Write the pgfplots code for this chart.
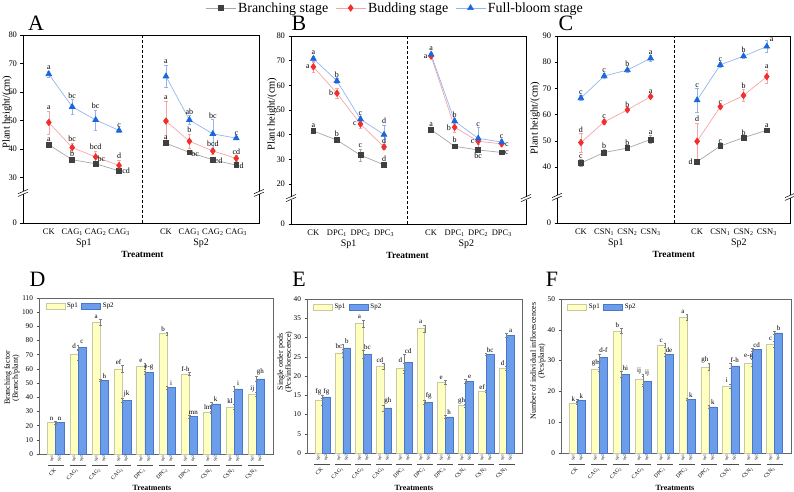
\documentclass[border=0pt]{standalone}
\usepackage{fontspec}
\setmainfont{Liberation Serif}
\usepackage{pgfplots}
\pgfplotsset{compat=1.18}
\usepackage{pgfplotstable}

\newcommand{\fs}[1]{\fontsize{#1}{#1}\selectfont}

\definecolor{blkM}{HTML}{404040}
\definecolor{blkL}{HTML}{A6A6A6}
\definecolor{redM}{HTML}{F42C2C}
\definecolor{redL}{HTML}{F5A5A5}
\definecolor{bluM}{HTML}{1C66DB}
\definecolor{bluL}{HTML}{93B5EE}
\definecolor{spA}{HTML}{FFFFC0}
\definecolor{spAe}{HTML}{C9C9A6}
\definecolor{spB}{HTML}{6C9DEA}
\definecolor{spBe}{HTML}{4A78C8}

\pgfplotsset{
  plantax/.style={
    scale only axis, anchor=south west, clip=false,
    axis line style={line width=0.6bp},
    tick align=outside, ytick pos=left, xtick pos=bottom,
    major tick length=2.5bp,
    every tick/.style={black, line width=0.5bp},
    xtick style={draw=none},
    ticklabel style={font=\fs{8.5}},
    /pgf/number format/assume math mode=true,
    xtick={0,1,2,3,5,6,7,8},
    ymin=0,
  },
  sBr/.style={blkL, line width=0.7bp, mark=square*, mark size=2.4bp,
    mark options={draw=blkM, fill=blkM, solid},
    error bars/y dir=both, error bars/y explicit,
    error bars/error bar style={blkL, line width=0.5bp},
    error bars/error mark options={blkL, rotate=90, mark size=1.6bp, line width=0.5bp}},
  sBu/.style={redL, line width=0.7bp, mark=diamond*, mark size=3.2bp,
    mark options={draw=redM, fill=redM, solid},
    error bars/y dir=both, error bars/y explicit,
    error bars/error bar style={redL, line width=0.5bp},
    error bars/error mark options={redL, rotate=90, mark size=1.6bp, line width=0.5bp}},
  sFb/.style={bluL, line width=0.7bp, mark=triangle*, mark size=3.3bp,
    mark options={draw=bluM, fill=bluM, solid},
    error bars/y dir=both, error bars/y explicit,
    error bars/error bar style={bluL, line width=0.5bp},
    error bars/error mark options={bluL, rotate=90, mark size=1.6bp, line width=0.5bp}},
  barax/.style={
    scale only axis, anchor=south west, clip=false,
    ymin=0, xmin=-0.75, xmax=9.75,
    axis line style={black!60, line width=0.6bp},
    tick align=outside, ytick pos=left,
    major tick length=2.5bp,
    every tick/.style={black!70, line width=0.5bp},
    xtick={0,...,9},
    xticklabels={CK,CAG\textsubscript{1},CAG\textsubscript{2},CAG\textsubscript{3},DPC\textsubscript{1},DPC\textsubscript{2},DPC\textsubscript{3},CSN\textsubscript{1},CSN\textsubscript{2},CSN\textsubscript{3}},
    xtick style={draw=none},
    yticklabel style={font=\fs{7.3}},
    xticklabel style={font=\fs{5.5}, rotate=45, anchor=east, inner sep=0.5bp},
    xticklabel shift=12.5bp,
    /pgf/number format/assume math mode=true,
    legend style={at={(0.025,0.985)}, anchor=north west, draw=none, fill=none,
      font=\fs{7}, inner sep=0.5bp, legend columns=2,
      /tikz/every even column/.append style={column sep=1.5bp}},
  },
  bS1/.style={ybar, bar width=0.37, bar shift=-0.185, fill=spA, draw=spAe, line width=0.5bp,
    error bars/y dir=both, error bars/y explicit,
    error bars/error bar style={gray, line width=0.4bp},
    error bars/error mark options={gray, rotate=90, mark size=1.3bp, line width=0.4bp},
    legend image code/.code={\draw[##1] (0bp,-3.3bp) rectangle (19bp,3.3bp);}},
  bS2/.style={ybar, bar width=0.37, bar shift=0.185, fill=spB, draw=spBe, line width=0.5bp,
    error bars/y dir=both, error bars/y explicit,
    error bars/error bar style={gray, line width=0.4bp},
    error bars/error mark options={gray, rotate=90, mark size=1.3bp, line width=0.4bp},
    legend image code/.code={\draw[##1] (0bp,-3.3bp) rectangle (19bp,3.3bp);}},
}

% letter labels on the line charts
\newcommand{\lb}[4][south]{\node[anchor=#1, inner sep=0.7bp, font=\fs{8}] at (axis cs:#2,#3) {#4};}
% letter labels on the bars (left bar / right bar of a pair)
\newcommand{\ba}[3]{\node[anchor=south, inner sep=0.6bp, font=\fs{7}, xshift=-4bp] at (axis cs:#1,#2) {#3};}
\newcommand{\bb}[3]{\node[anchor=south, inner sep=0.6bp, font=\fs{7}, xshift=4bp] at (axis cs:#1,#2) {#3};}
% broken y axis marks on both sides
\newcommand{\axbreak}[1]{%
  \fill[white] ([xshift=-1.6bp,yshift=-1.5bp]rel axis cs:0,#1) rectangle ([xshift=1.6bp,yshift=1.5bp]rel axis cs:0,#1);
  \draw[line width=0.5bp] ([xshift=-5bp,yshift=-3.6bp]rel axis cs:0,#1) -- ++(10bp,4.4bp);
  \draw[line width=0.5bp] ([xshift=-5bp,yshift=-0.8bp]rel axis cs:0,#1) -- ++(10bp,4.4bp);
  \fill[white] ([xshift=-1.6bp,yshift=-1.5bp]rel axis cs:1,#1) rectangle ([xshift=1.6bp,yshift=1.5bp]rel axis cs:1,#1);
  \draw[line width=0.5bp] ([xshift=-5bp,yshift=-3.6bp]rel axis cs:1,#1) -- ++(10bp,4.4bp);
  \draw[line width=0.5bp] ([xshift=-5bp,yshift=-0.8bp]rel axis cs:1,#1) -- ++(10bp,4.4bp);
}
% Sp1/Sp2 marks and underline below every bar pair
\newcommand{\pairmarks}{%
  \pgfplotsinvokeforeach{0,...,9}{%
    \node[font=\fs{3.8}, xshift=-3.8bp, yshift=-1.5bp, rotate=90, anchor=east, inner sep=0pt] at (axis cs:##1,0) {Sp1};
    \node[font=\fs{3.8}, xshift=3.8bp, yshift=-1.5bp, rotate=90, anchor=east, inner sep=0pt] at (axis cs:##1,0) {Sp2};
    \draw[black!70, line width=0.4bp] ([xshift=-8bp,yshift=-11.5bp]axis cs:##1,0) -- ([xshift=8bp,yshift=-11.5bp]axis cs:##1,0);
  }%
}

\begin{document}
\begin{tikzpicture}
\useasboundingbox (0,0) rectangle (794bp,492bp);

% ---------------- A: CAG ----------------
\begin{axis}[plantax, at={(23bp,269bp)}, width=236bp, height=188bp,
  xmin=-1.1, xmax=8.97, ymax=80,
  y coord trafo/.code={\pgfmathparse{ifthenelse(#1>=20,#1-14,#1)}},
  ytick={0,30,40,50,60,70,80}, yticklabels={0,30,40,50,60,70,80},
  xticklabels={CK,CAG\textsubscript{1},CAG\textsubscript{2},CAG\textsubscript{3},CK,CAG\textsubscript{1},CAG\textsubscript{2},CAG\textsubscript{3}}]
\addplot[sBr] table[x=x,y=y,y error=e]{
x y e
0 41.5 0.8
1 36.2 0.6
2 34.8 0.6
3 32.3 0.5
};
\addplot[sBu] table[x=x,y=y,y error=e]{
x y e
0 49.3 4
1 40.5 1.5
2 37.2 2
3 34.2 2
};
\addplot[sFb] table[x=x,y=y,y error=e]{
x y e
0 66.3 1
1 54.8 2.5
2 50.2 3.5
3 46.5 0.5
};
\addplot[sBr] table[x=x,y=y,y error=e]{
x y e
5 42.0 0.8
6 38.8 0.6
7 36.2 0.6
8 34.3 0.5
};
\addplot[sBu] table[x=x,y=y,y error=e]{
x y e
5 49.8 7
6 42.7 2.5
7 39.3 1
8 36.7 1
};
\addplot[sFb] table[x=x,y=y,y error=e]{
x y e
5 65.5 4
6 50.2 1.5
7 45.3 5
8 43.8 0.5
};
\draw[dashed, dash pattern=on 3bp off 2bp, line width=0.6bp] (axis cs:4,0) -- (axis cs:4,80);
\axbreak{0.16}
\lb{0}{67.4}{a} \lb{1}{57.4}{bc} \lb{2}{53.8}{bc} \lb{3}{47.1}{c}
\lb{0}{53.4}{a} \lb{1}{42.1}{bc} \lb{2}{39.3}{bcd} \lb{3}{36.3}{d}
\lb{0}{42.4}{a} \lb{1}{37.0}{b} \lb[south west]{2.05}{35.3}{bc} \lb[west]{3.1}{32.3}{cd}
\lb{5}{69.6}{a} \lb{6}{51.8}{ab} \lb{7}{50.4}{bc} \lb{8}{44.4}{c}
\lb{5}{56.9}{a} \lb{6}{45.3}{b} \lb{7}{40.4}{bcd} \lb{8}{37.8}{cd}
\lb{5}{42.9}{a} \lb[west]{6.05}{38.2}{bc} \lb[west]{7.05}{35.8}{cd} \lb[west]{8.1}{34.2}{d}
\node[font=\fs{10}, yshift=-20bp] at (axis cs:1.5,0) {Sp1};
\node[font=\fs{10}, yshift=-20bp] at (axis cs:6.5,0) {Sp2};
\node[font=\bfseries\fs{9.5}, yshift=-31bp] at (axis cs:4,0) {Treatment};
\end{axis}

% ---------------- B: DPC ----------------
\begin{axis}[plantax, at={(291bp,268bp)}, width=235bp, height=188bp,
  xmin=-0.95, xmax=9.03, ymax=80,
  y coord trafo/.code={\pgfmathparse{ifthenelse(#1>=15,#1-3.8,#1)}},
  ytick={0,20,30,40,50,60,70,80}, yticklabels={0,20,30,40,50,60,70,80},
  xticklabels={CK,DPC\textsubscript{1},DPC\textsubscript{2},DPC\textsubscript{3},CK,DPC\textsubscript{1},DPC\textsubscript{2},DPC\textsubscript{3}},
  legend image code/.code={\draw[mark repeat=2,mark phase=2,#1] plot coordinates {(0bp,0bp) (15bp,0bp) (30bp,0bp)};},
  legend style={at={(0.443,1.149)}, anchor=center, draw=none, fill=none,
    font=\fs{14}, inner sep=0pt, legend columns=3,
    /tikz/every even column/.append style={column sep=5bp}}]
\addplot[sBr] table[x=x,y=y,y error=e]{
x y e
0 41.5 1
1 37.8 0.8
2 31.7 2.5
3 27.8 0.8
};
\addlegendentry{Branching stage}
\addplot[sBu] table[x=x,y=y,y error=e]{
x y e
0 67.5 2
1 56.8 2
2 44.3 1.5
3 35.0 0.8
};
\addlegendentry{Budding stage}
\addplot[sFb] table[x=x,y=y,y error=e]{
x y e
0 70.8 1
1 61.8 1
2 46.3 1
3 40.0 4
};
\addlegendentry{Full-bloom stage}
\addplot[sBr, forget plot] table[x=x,y=y,y error=e]{
x y e
5 42.0 0.8
6 35.3 1
7 33.8 1
8 32.8 0.5
};
\addplot[sBu, forget plot] table[x=x,y=y,y error=e]{
x y e
5 71.8 1
6 43.0 2
7 37.3 1
8 36.3 1
};
\addplot[sFb, forget plot] table[x=x,y=y,y error=e]{
x y e
5 72.5 1
6 45.5 1
7 38.5 4.5
8 37.0 1
};
\draw[dashed, dash pattern=on 3bp off 2bp, line width=0.6bp] (axis cs:4,0) -- (axis cs:4,80);
\axbreak{0.138}
\lb{0}{71.9}{a} \lb{1}{62.9}{b} \lb{2}{47.4}{c} \lb{3}{44.1}{d}
\lb[east]{-0.12}{67.5}{a} \lb[east]{0.88}{56.8}{b} \lb[east]{1.88}{44.3}{c} \lb{3}{35.9}{d}
\lb{0}{42.6}{a} \lb{1}{38.7}{b} \lb{2}{34.3}{c} \lb{3}{28.7}{d}
\lb{5}{73.6}{a} \lb{6}{46.6}{b} \lb{7}{43.1}{c} \lb{8}{38.1}{c}
\lb[east]{4.88}{71.8}{a} \lb[east]{5.88}{43}{b} \lb[east]{6.88}{37.3}{c} \lb[west]{8.1}{35.8}{c}
\lb{5}{42.9}{a} \lb{6}{36.4}{b} \lb[north]{7}{32.9}{bc} \lb[west]{8.1}{32.6}{c}
\node[font=\fs{10}, yshift=-20bp] at (axis cs:1.5,0) {Sp1};
\node[font=\fs{10}, yshift=-20bp] at (axis cs:6.5,0) {Sp2};
\node[font=\bfseries\fs{9.5}, yshift=-31bp] at (axis cs:4,0) {Treatment};
\end{axis}

% ---------------- C: CSN ----------------
\begin{axis}[plantax, at={(557bp,269bp)}, width=233bp, height=187bp,
  xmin=-1.03, xmax=9.0, ymax=90,
  y coord trafo/.code={\pgfmathparse{ifthenelse(#1>=30,#1-18.6,#1)}},
  ytick={0,40,50,60,70,80,90}, yticklabels={0,40,50,60,70,80,90},
  xticklabels={CK,CSN\textsubscript{1},CSN\textsubscript{2},CSN\textsubscript{3},CK,CSN\textsubscript{1},CSN\textsubscript{2},CSN\textsubscript{3}}]
\addplot[sBr] table[x=x,y=y,y error=e]{
x y e
0 41.5 1.3
1 45.5 1.2
2 47.2 0.5
3 50.5 1.5
};
\addplot[sBu] table[x=x,y=y,y error=e]{
x y e
0 49.3 3.5
1 57.2 1
2 61.8 0.5
3 66.9 0.5
};
\addplot[sFb] table[x=x,y=y,y error=e]{
x y e
0 66.3 1
1 74.7 1
2 77.0 0.8
3 81.5 1
};
\addplot[sBr] table[x=x,y=y,y error=e]{
x y e
5 42.0 0.8
6 48.0 0.5
7 51.2 0.5
8 54.0 0.5
};
\addplot[sBu] table[x=x,y=y,y error=e]{
x y e
5 49.8 7
6 63.0 0.5
7 67.3 2.2
8 74.5 2.5
};
\addplot[sFb] table[x=x,y=y,y error=e]{
x y e
5 65.5 4.5
6 79.0 0.8
7 82.3 0.8
8 86.0 2.3
};
\draw[dashed, dash pattern=on 3bp off 2bp, line width=0.6bp] (axis cs:4,0) -- (axis cs:4,90);
\axbreak{0.14}
\lb{0}{67.4}{c} \lb{1}{75.8}{c} \lb{2}{77.9}{b} \lb{3}{82.6}{a}
\lb{0}{52.9}{d} \lb{1}{58.3}{c} \lb{2}{62.4}{b} \lb{3}{67.5}{a}
\lb{0}{42.9}{c} \lb{1}{46.8}{b} \lb{2}{47.8}{b} \lb{3}{52.1}{a}
\lb{5}{70.1}{c} \lb{6}{79.9}{c} \lb{7}{83.2}{b} \lb[south west]{8.1}{87.5}{a}
\lb{5}{56.9}{d} \lb{6}{63.6}{c} \lb{7}{69.6}{b} \lb{8}{77.1}{a}
\lb[east]{4.85}{42}{d} \lb{6}{48.6}{c} \lb{7}{51.8}{b} \lb{8}{54.6}{a}
\node[font=\fs{10}, yshift=-20bp] at (axis cs:1.5,0) {Sp1};
\node[font=\fs{10}, yshift=-20bp] at (axis cs:6.8,0) {Sp2};
\node[font=\bfseries\fs{9.5}, yshift=-31bp] at (axis cs:4,0) {Treatment};
\end{axis}

% ---------------- D: branching factor ----------------
\begin{axis}[barax, at={(39bp,38bp)}, width=234bp, height=156bp,
  ymax=110, ytick={0,10,...,110}]
\addplot[bS1] table[x=x,y=y,y error=e]{
x y e
0 22.3 1
1 70.0 4
2 93.0 2
3 60.0 2.5
4 62.0 2
5 85.0 1
6 56.5 1
7 29.5 1
8 33.3 2
9 42.0 1.5
};
\addlegendentry{Sp1}
\addplot[bS2] table[x=x,y=y,y error=e]{
x y e
0 22.3 1
1 75.0 2
2 52.0 1
3 38.0 1.5
4 57.5 1
5 47.0 1
6 26.5 1
7 35.3 1
8 46.0 2
9 53.0 2
};
\addlegendentry{Sp2}
\ba{0}{23.3}{n} \bb{0}{23.3}{n}
\ba{1}{74}{d} \bb{1}{77}{c}
\ba{2}{95}{a} \bb{2}{53}{h}
\ba{3}{62.5}{ef} \bb{3}{39.5}{jk}
\ba{4}{64}{e} \bb{4}{58.5}{e-g}
\ba{5}{86}{b} \bb{5}{48}{i}
\ba{6}{57.5}{f-h} \bb{6}{27.5}{mn}
\ba{7}{30.5}{lm} \bb{7}{36.3}{k}
\ba{8}{35.3}{kl} \bb{8}{48}{i}
\ba{9}{43.5}{ij} \bb{9}{55}{gh}
\pairmarks
\end{axis}

% ---------------- E: single order pods ----------------
\begin{axis}[barax, at={(307bp,39bp)}, width=215bp, height=154bp,
  ymax=40, ytick={0,5,...,40}]
\addplot[bS1] table[x=x,y=y,y error=e]{
x y e
0 13.7 1.2
1 26.0 1
2 33.6 1
3 22.6 0.8
4 22.0 1.3
5 32.3 1
6 18.3 0.5
7 12.3 0.3
8 16.0 0.3
9 22.0 0.5
};
\addlegendentry{Sp1}
\addplot[bS2] table[x=x,y=y,y error=e]{
x y e
0 14.6 0.3
1 27.3 1
2 25.7 1
3 11.7 0.8
4 23.6 2
5 13.2 0.5
6 9.4 0.3
7 18.6 0.5
8 25.7 0.3
9 30.6 0.5
};
\addlegendentry{Sp2}
\ba{0}{14.9}{fg} \bb{0}{14.9}{fg}
\ba{1}{27}{bc} \bb{1}{28.3}{b}
\ba{2}{34.6}{a} \bb{2}{26.7}{bc}
\ba{3}{23.4}{cd} \bb{3}{12.5}{gh}
\ba{4}{23.3}{d} \bb{4}{25.6}{cd}
\ba{5}{33.3}{a} \bb{5}{13.7}{fg}
\ba{6}{18.8}{e} \bb{6}{9.7}{h}
\ba{7}{12.6}{gh} \bb{7}{19.1}{e}
\ba{8}{16.3}{ef} \bb{8}{26}{bc}
\ba{9}{22.5}{d} \bb{9}{31.1}{a}
\pairmarks
\end{axis}

% ---------------- F: individual inflorescences ----------------
\begin{axis}[barax, at={(561bp,39bp)}, width=230bp, height=154bp,
  ymax=50, ytick={0,10,...,50}]
\addplot[bS1] table[x=x,y=y,y error=e]{
x y e
0 16.2 0.3
1 27.2 0.8
2 39.6 0.8
3 24.0 1.5
4 35.0 0.5
5 44.0 1
6 28.0 1
7 21.7 0.8
8 29.3 1
9 35.3 1
};
\addlegendentry{Sp1}
\addplot[bS2] table[x=x,y=y,y error=e]{
x y e
0 17.2 0.3
1 31.0 1.2
2 25.6 1
3 23.3 1.5
4 32.0 0.5
5 17.5 0.3
6 15.0 0.5
7 28.3 0.8
8 33.6 0.5
9 39.0 0.5
};
\addlegendentry{Sp2}
\ba{0}{16.5}{k} \bb{0}{17.5}{k}
\ba{1}{28}{gh} \bb{1}{32.2}{d-f}
\ba{2}{40.4}{b} \bb{2}{26.6}{hi}
\ba{3}{25.5}{ij} \bb{3}{24.8}{ij}
\ba{4}{35.5}{c} \bb{4}{32.5}{de}
\ba{5}{45}{a} \bb{5}{17.8}{k}
\ba{6}{29}{gh} \bb{6}{15.5}{k}
\ba{7}{22.5}{i} \bb{7}{29.1}{f-h}
\ba{8}{30.3}{e-g} \bb{8}{34.1}{cd}
\ba{9}{36.3}{c} \bb{9}{39.5}{b}
\pairmarks
\end{axis}

% panel letters
\node[font=\fs{22}] at (36bp,468.5bp) {A};
\node[font=\fs{22}] at (299bp,469bp) {B};
\node[font=\fs{22}] at (566bp,469bp) {C};
\node[font=\fs{22}] at (37.5bp,212.5bp) {D};
\node[font=\fs{22}] at (299bp,212.5bp) {E};
\node[font=\fs{22}] at (552bp,212.5bp) {F};

% axis titles
\node[font=\fs{10.5}, rotate=90] at (7bp,380bp) {Plant height/(cm)};
\node[font=\fs{10.5}, rotate=90] at (272bp,378bp) {Plant height/(cm)};
\node[font=\fs{10.5}, rotate=90] at (535bp,374bp) {Plant height/(cm)};
\node[font=\fs{8}, rotate=90, align=center] at (12bp,114bp) {Branching factor\\(Branch/plant)};
\node[font=\fs{8}, rotate=90, align=center] at (285bp,130bp) {Single order pods\\(Pcs/inflorescence)};
\node[font=\fs{8}, rotate=90, align=center] at (538bp,131bp) {Number of individual inflorescences\\(Pcs/plant)};
\node[font=\bfseries\fs{8}] at (152bp,4.5bp) {Treatments};
\node[font=\bfseries\fs{8}] at (414bp,4.5bp) {Treatments};
\node[font=\bfseries\fs{8}] at (675bp,4.5bp) {Treatments};
\end{tikzpicture}
\end{document}
